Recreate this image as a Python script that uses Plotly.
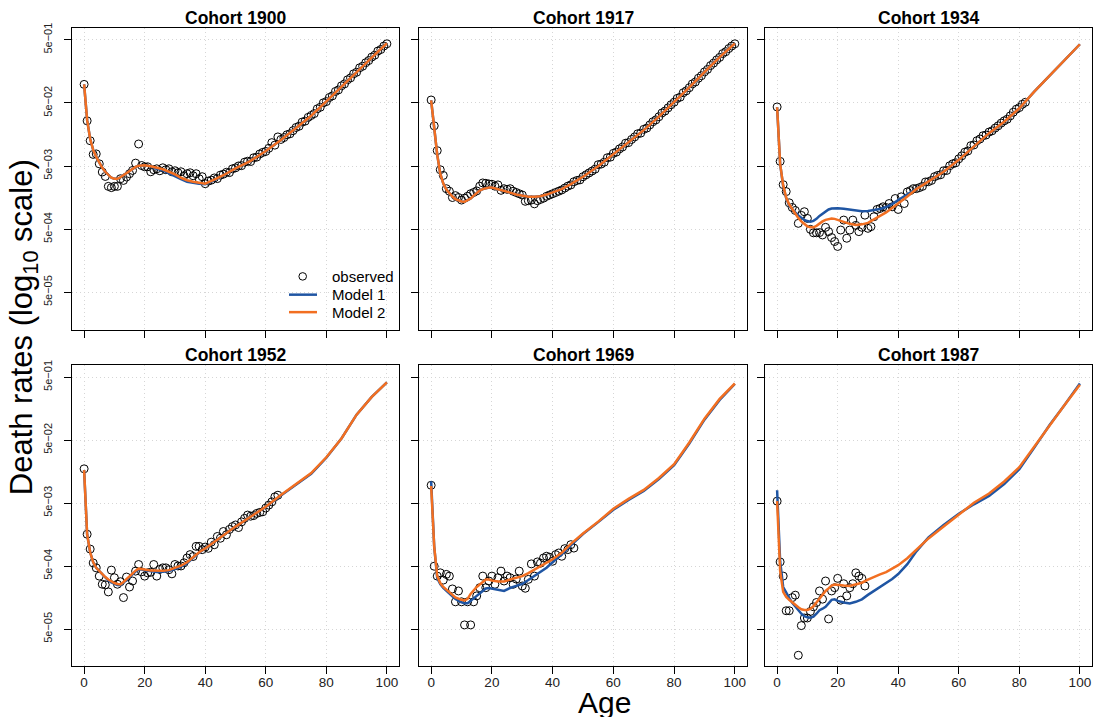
import plotly.graph_objects as go
import numpy as np

# ---------------- data (death rates, stored as log10 values) ----------------
cohorts = ["1900", "1917", "1934", "1952", "1969", "1987"]

model_ages = [0, 1, 2, 3, 4, 5, 6, 7, 8, 9, 10, 11, 12, 13, 14, 15, 16, 17, 18, 19, 20,
              22, 24, 26, 28, 30, 32, 34, 36, 38, 40, 43, 46, 50, 55, 60, 65, 70, 75, 80,
              85, 90, 95, 100]

obs_1900 = [-1.008, -1.585, -1.900, -2.117, -2.109, -2.266, -2.396, -2.466, -2.623, -2.643,
            -2.623, -2.623, -2.502, -2.529, -2.475, -2.423, -2.371, -2.255, -1.952, -2.293,
            -2.313, -2.313, -2.392, -2.360, -2.345, -2.376, -2.329, -2.360, -2.345, -2.392,
            -2.376, -2.408, -2.392, -2.455, -2.423, -2.408, -2.455, -2.423, -2.502, -2.470,
            -2.581, -2.540, -2.525, -2.490, -2.500, -2.445, -2.430, -2.400, -2.405, -2.345,
            -2.330, -2.300, -2.295, -2.240, -2.225, -2.230, -2.170, -2.160, -2.110, -2.085,
            -2.070, -2.020, -1.930, -1.970, -1.840, -1.880, -1.850, -1.805, -1.790, -1.740,
            -1.690, -1.670, -1.605, -1.590, -1.530, -1.500, -1.470, -1.395, -1.370, -1.300,
            -1.280, -1.215, -1.190, -1.120, -1.095, -1.030, -1.000, -0.935, -0.905, -0.840,
            -0.815, -0.745, -0.720, -0.665, -0.630, -0.575, -0.545, -0.480, -0.455, -0.400,
            -0.365]
m1_1900 = [-1.009, -1.575, -1.873, -2.046, -2.157, -2.251, -2.329, -2.392, -2.447, -2.487,
           -2.502, -2.502, -2.479, -2.447, -2.408, -2.369, -2.337, -2.314, -2.298, -2.290,
           -2.290, -2.306, -2.345, -2.370, -2.420, -2.460, -2.510, -2.550, -2.570, -2.580,
           -2.588, -2.525, -2.447, -2.337, -2.219, -2.062, -1.889, -1.700, -1.504, -1.276,
           -1.040, -0.804, -0.584, -0.356]
m2_1900 = [-1.009, -1.575, -1.873, -2.046, -2.157, -2.251, -2.329, -2.392, -2.447, -2.487,
           -2.502, -2.502, -2.479, -2.447, -2.408, -2.369, -2.337, -2.314, -2.298, -2.290,
           -2.290, -2.306, -2.329, -2.353, -2.392, -2.432, -2.487, -2.526, -2.549, -2.565,
           -2.581, -2.518, -2.447, -2.337, -2.219, -2.062, -1.889, -1.700, -1.504, -1.276,
           -1.040, -0.804, -0.584, -0.356]

obs_1917 = [-1.255, -1.664, -2.057, -2.360, -2.450, -2.660, -2.700, -2.800, -2.770, -2.800,
            -2.840, -2.810, -2.780, -2.740, -2.720, -2.695, -2.620, -2.569, -2.575, -2.585,
            -2.590, -2.620, -2.600, -2.686, -2.660, -2.670, -2.660, -2.700, -2.720, -2.740,
            -2.760, -2.860, -2.850, -2.840, -2.900, -2.850, -2.830, -2.810, -2.780, -2.760,
            -2.740, -2.720, -2.700, -2.680, -2.650, -2.620, -2.600, -2.550, -2.530, -2.520,
            -2.470, -2.440, -2.410, -2.380, -2.350, -2.280, -2.270, -2.240, -2.170, -2.160,
            -2.100, -2.080, -2.030, -2.000, -1.940, -1.930, -1.880, -1.840, -1.790, -1.780,
            -1.720, -1.700, -1.650, -1.600, -1.570, -1.520, -1.460, -1.430, -1.380, -1.330,
            -1.290, -1.230, -1.210, -1.140, -1.110, -1.060, -1.000, -0.970, -0.910, -0.870,
            -0.810, -0.770, -0.710, -0.670, -0.620, -0.580, -0.520, -0.490, -0.440, -0.400,
            -0.365]
m1_1917 = [-1.260, -1.680, -2.120, -2.423, -2.580, -2.675, -2.738, -2.785, -2.824, -2.848,
           -2.863, -2.868, -2.848, -2.816, -2.769, -2.730, -2.690, -2.667, -2.651, -2.643,
           -2.643, -2.667, -2.698, -2.722, -2.753, -2.777, -2.789, -2.789, -2.780, -2.753,
           -2.722, -2.667, -2.588, -2.470, -2.305, -2.109, -1.920, -1.732, -1.519, -1.291,
           -1.056, -0.812, -0.576, -0.360]
m2_1917 = [-1.260, -1.680, -2.120, -2.423, -2.580, -2.675, -2.738, -2.785, -2.824, -2.848,
           -2.863, -2.868, -2.848, -2.816, -2.769, -2.730, -2.690, -2.667, -2.651, -2.643,
           -2.643, -2.667, -2.698, -2.722, -2.753, -2.777, -2.789, -2.789, -2.780, -2.753,
           -2.722, -2.667, -2.588, -2.470, -2.305, -2.109, -1.920, -1.732, -1.519, -1.291,
           -1.056, -0.812, -0.576, -0.360]

obs_1934 = [-1.365, -2.227, -2.596, -2.706, -2.884, -2.958, -3.005, -3.209, -3.083, -3.025,
            -3.131, -3.304, -3.359, -3.359, -3.355, -3.393, -3.272, -3.340, -3.434, -3.497,
            -3.575, -3.315, -3.157, -3.445, -3.315, -3.157, -3.241, -3.340, -3.272, -3.079,
            -3.288, -3.261, -3.104, -2.989, -2.973, -2.947, -2.958, -2.895, -2.947, -2.816,
            -2.989, -2.789, -2.895, -2.711, -2.690, -2.659, -2.659, -2.643, -2.623, -2.554,
            -2.549, -2.529, -2.470, -2.450, -2.439, -2.376, -2.371, -2.297, -2.266, -2.250,
            -2.187, -2.140, -2.082, -2.062, -1.978, -1.967, -1.900, -1.873, -1.821, -1.810,
            -1.763, -1.743, -1.700, -1.664, -1.621, -1.585, -1.559, -1.507, -1.449, -1.401,
            -1.375, -1.323, -1.291]
m1_1934 = [-1.370, -2.266, -2.620, -2.810, -2.930, -2.990, -3.036, -3.083, -3.123, -3.154,
           -3.173, -3.182, -3.170, -3.138, -3.091, -3.052, -3.013, -2.989, -2.973, -2.969,
           -2.969, -2.978, -2.994, -3.005, -3.016, -3.013, -3.000, -2.981, -2.950, -2.903,
           -2.840, -2.753, -2.659, -2.541, -2.392, -2.203, -1.999, -1.780, -1.600, -1.386,
           -1.118, -0.867, -0.615, -0.372]
m2_1934 = [-1.370, -2.266, -2.607, -2.800, -2.911, -2.989, -3.060, -3.123, -3.178, -3.225,
           -3.256, -3.272, -3.272, -3.249, -3.209, -3.178, -3.154, -3.138, -3.131, -3.138,
           -3.154, -3.186, -3.217, -3.236, -3.225, -3.201, -3.146, -3.099, -3.036, -2.966,
           -2.895, -2.785, -2.667, -2.541, -2.392, -2.203, -1.999, -1.780, -1.600, -1.386,
           -1.118, -0.867, -0.615, -0.372]

obs_1952 = [-1.758, -2.796, -3.032, -3.252, -3.330, -3.461, -3.590, -3.600, -3.712, -3.366,
            -3.487, -3.590, -3.550, -3.802, -3.476, -3.634, -3.539, -3.382, -3.277, -3.393,
            -3.461, -3.409, -3.400, -3.277, -3.461, -3.355, -3.330, -3.330, -3.360, -3.425,
            -3.277, -3.300, -3.300, -3.250, -3.173, -3.120, -3.150, -2.989, -2.989, -3.041,
            -3.000, -3.020, -2.922, -2.963, -2.832, -2.860, -2.753, -2.805, -2.720, -2.675,
            -2.649, -2.690, -2.600, -2.544, -2.492, -2.510, -2.500, -2.466, -2.450, -2.440,
            -2.380, -2.334, -2.282, -2.203, -2.177]
m1_1952 = [-1.779, -2.800, -3.083, -3.241, -3.330, -3.382, -3.429, -3.480, -3.531, -3.562,
           -3.586, -3.601, -3.607, -3.570, -3.523, -3.476, -3.429, -3.389, -3.358, -3.358,
           -3.370, -3.389, -3.397, -3.393, -3.381, -3.350, -3.311, -3.256, -3.170, -3.088,
           -3.021, -2.918, -2.808, -2.675, -2.518, -2.365, -2.182, -2.010, -1.836, -1.582,
           -1.276, -0.898, -0.615, -0.384]
m2_1952 = [-1.779, -2.800, -3.083, -3.241, -3.330, -3.382, -3.429, -3.476, -3.516, -3.547,
           -3.571, -3.586, -3.592, -3.555, -3.508, -3.461, -3.414, -3.374, -3.343, -3.343,
           -3.355, -3.374, -3.382, -3.378, -3.366, -3.335, -3.296, -3.241, -3.162, -3.083,
           -3.021, -2.918, -2.808, -2.675, -2.518, -2.360, -2.172, -1.999, -1.826, -1.574,
           -1.276, -0.898, -0.615, -0.384]

obs_1969 = [-2.019, -3.304, -3.461, -3.409, -3.524, -3.434, -3.461, -3.665, -3.869, -3.697,
            -3.869, -4.236, -3.869, -4.236, -3.869, -3.775, -3.645, -3.461, -3.645, -3.539,
            -3.461, -3.591, -3.487, -3.382, -3.539, -3.461, -3.487, -3.591, -3.508, -3.382,
            -3.618, -3.654, -3.513, -3.267, -3.461, -3.236, -3.256, -3.173, -3.146, -3.162,
            -3.225, -3.120, -3.094, -3.146, -3.025, -3.041, -2.962, -3.016]
m1_1969 = [-1.956, -2.989, -3.492, -3.586, -3.649, -3.697, -3.744, -3.783, -3.822, -3.854,
           -3.877, -3.893, -3.893, -3.854, -3.814, -3.767, -3.728, -3.689, -3.657, -3.649,
           -3.657, -3.681, -3.697, -3.649, -3.618, -3.586, -3.524, -3.461, -3.398, -3.327,
           -3.241, -3.115, -2.973, -2.793, -2.604, -2.408, -2.250, -2.108, -1.920, -1.700,
           -1.355, -0.977, -0.663, -0.411]
m2_1969 = [-2.030, -2.989, -3.461, -3.571, -3.634, -3.681, -3.720, -3.759, -3.799, -3.822,
           -3.838, -3.846, -3.822, -3.744, -3.681, -3.634, -3.594, -3.547, -3.516, -3.516,
           -3.531, -3.547, -3.547, -3.516, -3.492, -3.461, -3.414, -3.359, -3.304, -3.256,
           -3.193, -3.091, -2.950, -2.785, -2.596, -2.392, -2.235, -2.093, -1.904, -1.684,
           -1.339, -0.961, -0.647, -0.403]

obs_1987 = [-2.271, -3.236, -3.461, -4.011, -4.011, -3.802, -3.764, -4.718, -4.247, -4.126,
            -4.126, -4.022, -3.948, -3.880, -3.697, -3.827, -3.539, -4.141, -3.697, -3.645,
            -3.497, -3.843, -3.582, -3.775, -3.645, -3.582, -3.409, -3.461, -3.497, -3.618]
m1_1987 = [-2.098, -3.225, -3.634, -3.728, -3.807, -3.885, -3.948, -4.011, -4.058, -4.097,
           -4.116, -4.121, -4.105, -4.058, -4.003, -3.979, -3.948, -3.893, -3.838, -3.830,
           -3.854, -3.880, -3.896, -3.869, -3.830, -3.759, -3.697, -3.634, -3.563, -3.508,
           -3.429, -3.272, -3.068, -2.848, -2.651, -2.470, -2.321, -2.187, -1.999, -1.763,
           -1.417, -1.063, -0.741, -0.403]
m2_1987 = [-2.271, -3.382, -3.712, -3.791, -3.838, -3.880, -3.917, -3.956, -3.987, -4.000,
           -4.000, -3.979, -3.940, -3.877, -3.807, -3.744, -3.697, -3.657, -3.610, -3.594,
           -3.602, -3.610, -3.618, -3.594, -3.566, -3.516, -3.469, -3.434, -3.398, -3.343,
           -3.288, -3.178, -3.036, -2.863, -2.675, -2.486, -2.297, -2.151, -1.959, -1.732,
           -1.401, -1.056, -0.741, -0.422]

observed = [obs_1900, obs_1917, obs_1934, obs_1952, obs_1969, obs_1987]
model1 = [m1_1900, m1_1917, m1_1934, m1_1952, m1_1969, m1_1987]
model2 = [m2_1900, m2_1917, m2_1934, m2_1952, m2_1969, m2_1987]

x_ticks = [0, 20, 40, 60, 80, 100]
y_ticks = [5e-5, 5e-4, 5e-3, 5e-2, 5e-1]
y_tick_text = ["5e\u221205", "5e\u221204", "5e\u221203", "5e\u221202", "5e\u221201"]

# ---------------- style / layout ----------------
W, H = 1093, 717
BLUE = "#1F55A3"
ORANGE = "#F26F21"
GRID = "#d6d6d6"
FONT = "Liberation Sans, Arial, Helvetica, sans-serif"

col_px = [(72, 399), (419, 747), (765, 1092)]
row_px = [(23, 327), (362.7, 666)]


def px_x(p):
    return p / W


def px_y(p):
    return 1 - p / H


fig = go.Figure()
layout = dict(
    width=W, height=H,
    margin=dict(l=0, r=0, t=0, b=0),
    paper_bgcolor="white", plot_bgcolor="white",
    showlegend=False,
    font=dict(family=FONT, color="black"),
)

annotations = []
for i, name in enumerate(cohorts):
    r, c = divmod(i, 3)
    n = i + 1
    xa = "x" if n == 1 else f"x{n}"
    ya = "y" if n == 1 else f"y{n}"
    obs = observed[i]
    ages_obs = list(range(len(obs)))
    fig.add_trace(go.Scatter(
        x=ages_obs, y=10 ** np.array(obs), mode="markers",
        marker=dict(symbol="circle-open", size=8, color="black", line=dict(width=1)),
        xaxis=xa, yaxis=ya, name="observed"))
    fig.add_trace(go.Scatter(
        x=model_ages, y=10 ** np.array(model1[i]), mode="lines",
        line=dict(color=BLUE, width=2.5), xaxis=xa, yaxis=ya, name="Model 1"))
    fig.add_trace(go.Scatter(
        x=model_ages, y=10 ** np.array(model2[i]), mode="lines",
        line=dict(color=ORANGE, width=2.5), xaxis=xa, yaxis=ya, name="Model 2"))

    x0, x1 = col_px[c]
    y0, y1 = row_px[r]
    key_x = "xaxis" if n == 1 else f"xaxis{n}"
    key_y = "yaxis" if n == 1 else f"yaxis{n}"
    layout[key_x] = dict(
        domain=[px_x(x0), px_x(x1)], anchor=ya, range=[-4, 104],
        showline=True, mirror=True, linecolor="black", linewidth=1,
        ticks="outside", ticklen=7, tickcolor="black", tickwidth=1,
        tickvals=x_ticks, showticklabels=(r == 1),
        tickfont=dict(size=13.5, color="#222222", family=FONT),
        showgrid=True, gridcolor=GRID, griddash="1px,3px", gridwidth=1,
        zeroline=False, ticklabelstandoff=-4,
    )
    layout[key_y] = dict(
        domain=[px_y(y1), px_y(y0)], anchor=xa, type="log",
        range=[-4.894, -0.112],
        showline=True, mirror=True, linecolor="black", linewidth=1,
        ticks="outside", ticklen=7, tickcolor="black", tickwidth=1,
        tickvals=y_ticks, ticktext=y_tick_text, showticklabels=(c == 0),
        tickangle=-90, tickfont=dict(size=11, color="#222222", family=FONT),
        showgrid=True, gridcolor=GRID, griddash="1px,3px", gridwidth=1,
        zeroline=False, ticklabelstandoff=8,
    )
    annotations.append(dict(
        text=f"<b>Cohort {name}</b>", x=px_x((x0 + x1) / 2), y=px_y(y0 - 10),
        xref="paper", yref="paper", showarrow=False, xanchor="center", yanchor="middle",
        font=dict(size=17.5, color="black", family=FONT)))

# axis titles
annotations.append(dict(
    text="Death rates (log<sub>10</sub> scale)", x=px_x(23.5), y=px_y(325),
    xref="paper", yref="paper", showarrow=False, textangle=-90,
    xanchor="center", yanchor="middle", font=dict(size=31, color="black", family=FONT)))
annotations.append(dict(
    text="Age", x=px_x(604), y=px_y(702),
    xref="paper", yref="paper", showarrow=False,
    xanchor="center", yanchor="middle", font=dict(size=30, color="black", family=FONT)))

# legend (panel 1, bottom right)
leg_text_x = 330
leg_rows = [273.3, 291.7, 309.3]
for label, yy in zip(["observed", "Model 1", "Model 2"], leg_rows):
    annotations.append(dict(
        text=label, x=px_x(leg_text_x), y=px_y(yy), xref="paper", yref="paper",
        showarrow=False, xanchor="left", yanchor="middle",
        font=dict(size=15, color="black", family=FONT)))

shapes = [
    dict(type="circle", xref="paper", yref="paper",
         x0=px_x(302.7 - 3.8), x1=px_x(302.7 + 3.8),
         y0=px_y(leg_rows[0] + 3.8), y1=px_y(leg_rows[0] - 3.8),
         line=dict(color="black", width=1)),
    dict(type="line", xref="paper", yref="paper",
         x0=px_x(289), x1=px_x(317), y0=px_y(leg_rows[1]), y1=px_y(leg_rows[1]),
         line=dict(color=BLUE, width=2.5)),
    dict(type="line", xref="paper", yref="paper",
         x0=px_x(289), x1=px_x(317), y0=px_y(leg_rows[2]), y1=px_y(leg_rows[2]),
         line=dict(color=ORANGE, width=2.5)),
]

layout["annotations"] = annotations
layout["shapes"] = shapes
fig.update_layout(**layout)
fig.write_html("out.html", config={"displayModeBar": False},
               post_script="document.body.style.margin='0';document.body.style.overflow='hidden';")
